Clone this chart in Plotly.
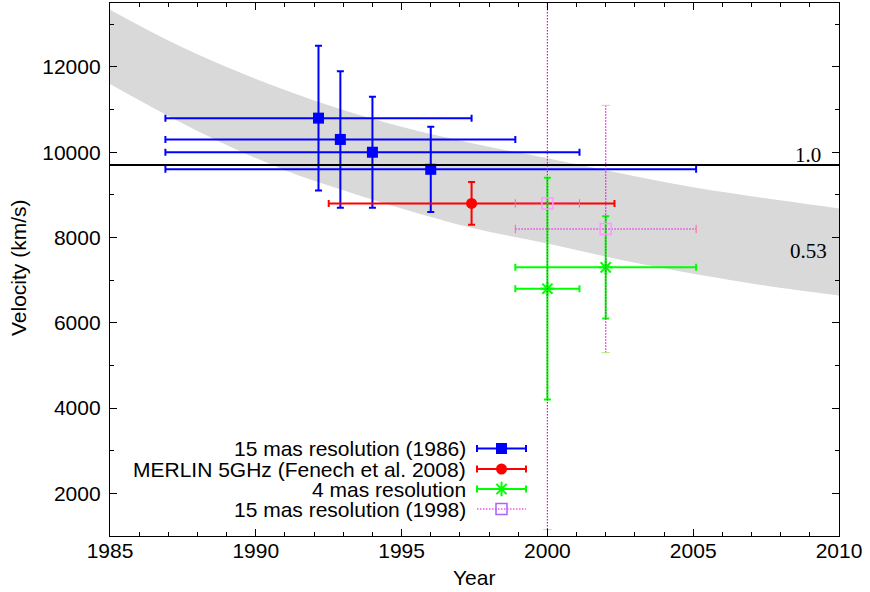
import plotly.graph_objects as go

# ---------------- data ----------------
band_year = [1985, 1987, 1989, 1991, 1993, 1995, 1997.5, 2000, 2002.5, 2005, 2007.5, 2010]
band_upper = [13340, 12620, 12000, 11460, 10990, 10600, 10200, 9860, 9510, 9180, 8920, 8680]
band_lower = [11600, 10850, 10170, 9580, 9110, 8680, 8210, 7860, 7480, 7150, 6870, 6640]

v_ref = 9700          # horizontal reference line labelled "1.0"
label_ref = "1.0"
label_band = "0.53"

series_names = [
    "15 mas resolution (1986)",
    "MERLIN 5GHz (Fenech et al. 2008)",
    "4 mas resolution",
    "15 mas resolution (1998)",
]

# 15 mas resolution (1986)
s1_year = [1992.15, 1992.9, 1994.0, 1996.0]
s1_year_lo = [1986.9, 1986.9, 1986.9, 1986.9]
s1_year_hi = [1997.4, 1998.9, 2001.1, 2005.1]
s1_v = [10800, 10300, 10000, 9600]
s1_v_lo = [9100, 8700, 8700, 8600]
s1_v_hi = [12500, 11900, 11300, 10600]

# MERLIN 5GHz (Fenech et al. 2008)
s2_year = [1997.4]
s2_year_lo = [1992.5]
s2_year_hi = [2002.3]
s2_v = [8800]
s2_v_lo = [8300]
s2_v_hi = [9300]

# 4 mas resolution
s3_year = [2000.0, 2002.0]
s3_year_lo = [1998.9, 1998.9]
s3_year_hi = [2001.1, 2005.1]
s3_v = [6800, 7300]
s3_v_lo = [4200, 6100]
s3_v_hi = [9400, 8500]

# 15 mas resolution (1998)
s4_year = [2000.0, 2002.0]
s4_year_lo = [1998.9, 1998.9]
s4_year_hi = [2001.1, 2005.1]
s4_v = [8800, 8200]
s4_v_lo = [1150, 5300]
s4_v_hi = [16450, 11100]

# ---------------- styling ----------------
BLUE = "rgb(0,0,255)"
RED = "rgb(255,0,0)"
GREEN = "rgb(0,255,0)"
MAGENTA = "rgb(240,0,240)"
GRAY = "rgb(217,217,217)"
SANS = "Liberation Sans, Arial, Helvetica, sans-serif"
SERIF = "Liberation Serif, Times New Roman, serif"
FS = 21
DOT = "1.5px,1.5px"

W, H = 870, 592
ML, MR, MT, MB = 110, 31, 3, 56
PW, PH = W - ML - MR, H - MT - MB

fig = go.Figure()

# shaded band
fig.add_trace(go.Scatter(x=band_year, y=band_lower, mode="lines",
                         line=dict(width=0, color=GRAY, shape="spline"),
                         showlegend=False, hoverinfo="skip"))
fig.add_trace(go.Scatter(x=band_year, y=band_upper, mode="lines", fill="tonexty",
                         fillcolor=GRAY, line=dict(width=0, color=GRAY, shape="spline"),
                         showlegend=False, hoverinfo="skip"))

# reference line
fig.add_shape(type="line", xref="paper", x0=0, x1=1, yref="y", y0=v_ref, y1=v_ref,
              line=dict(color="black", width=2))


def err(x, lo, hi):
    return dict(plus=[h - v for v, h in zip(x, hi)], minus=[v - l for v, l in zip(x, lo)])


def errbar_trace(x, xlo, xhi, y, ylo, yhi, color, symbol, size, mline, name):
    ex = err(x, xlo, xhi)
    ey = err(y, ylo, yhi)
    return go.Scatter(
        x=x, y=y, mode="markers", name=name, showlegend=False,
        marker=dict(symbol=symbol, size=size, color=color,
                    line=dict(color=color, width=mline)),
        error_x=dict(type="data", symmetric=False, array=ex["plus"], arrayminus=ex["minus"],
                     color=color, thickness=2, width=3.5),
        error_y=dict(type="data", symmetric=False, array=ey["plus"], arrayminus=ey["minus"],
                     color=color, thickness=2, width=3.5),
    )


fig.add_trace(errbar_trace(s1_year, s1_year_lo, s1_year_hi, s1_v, s1_v_lo, s1_v_hi,
                           BLUE, "square", 11, 0, series_names[0]))
fig.add_trace(errbar_trace(s2_year, s2_year_lo, s2_year_hi, s2_v, s2_v_lo, s2_v_hi,
                           RED, "circle", 11, 0, series_names[1]))
fig.add_trace(errbar_trace(s3_year, s3_year_lo, s3_year_hi, s3_v, s3_v_lo, s3_v_hi,
                           GREEN, "asterisk-open", 12, 2, series_names[2]))

# dotted magenta error bars built from the data
seg_x, seg_y = [], []
for x, xl, xh, y, yl, yh in zip(s4_year, s4_year_lo, s4_year_hi, s4_v, s4_v_lo, s4_v_hi):
    seg_x += [xl, xh, None, x, x, None]
    seg_y += [y, y, None, yl, yh, None]
fig.add_trace(go.Scatter(x=seg_x, y=seg_y, mode="lines",
                         line=dict(color=MAGENTA, width=1.2, dash=DOT),
                         showlegend=False, hoverinfo="skip", connectgaps=False))
fig.add_trace(go.Scatter(x=s4_year_lo + s4_year_hi, y=s4_v + s4_v, mode="markers",
                         marker=dict(symbol="line-ns-open", size=6,
                                     line=dict(color=MAGENTA, width=1)),
                         showlegend=False, hoverinfo="skip"))
fig.add_trace(go.Scatter(x=s4_year + s4_year, y=s4_v_lo + s4_v_hi, mode="markers",
                         marker=dict(symbol="line-ew-open", size=6,
                                     line=dict(color=MAGENTA, width=1)),
                         showlegend=False, hoverinfo="skip"))
fig.add_trace(go.Scatter(x=s4_year, y=s4_v, mode="markers", name=series_names[3],
                         marker=dict(symbol="square-open", size=11,
                                     line=dict(color=MAGENTA, width=1.5)),
                         showlegend=False))

# ---------------- manual legend (gnuplot style: text then sample) ----------------
leg_rows = [445.5, 466, 486, 506]      # pixel rows inside plot area (from top)
leg_text_right = 357
leg_sample_c = 391.5
leg_half = 24.5
leg_styles = [(BLUE, "square", 11, 0), (RED, "circle", 11, 0), (GREEN, "asterisk-open", 12, 2)]
for i, (col, sym, sz, lw) in enumerate(leg_styles):
    fig.add_trace(go.Scatter(
        x=[leg_sample_c], y=[leg_rows[i]], xaxis="x2", yaxis="y2", mode="markers",
        showlegend=False, hoverinfo="skip",
        marker=dict(symbol=sym, size=sz, color=col, line=dict(color=col, width=lw)),
        error_x=dict(type="constant", value=leg_half, color=col, thickness=2, width=3.5)))
fig.add_trace(go.Scatter(
    x=[leg_sample_c - leg_half, leg_sample_c + leg_half], y=[leg_rows[3], leg_rows[3]],
    xaxis="x2", yaxis="y2", mode="lines", showlegend=False, hoverinfo="skip",
    line=dict(color=MAGENTA, width=1.2, dash=DOT)))
fig.add_trace(go.Scatter(
    x=[leg_sample_c], y=[leg_rows[3]], xaxis="x2", yaxis="y2", mode="markers",
    showlegend=False, hoverinfo="skip",
    marker=dict(symbol="square-open", size=11, line=dict(color=MAGENTA, width=1.5))))

annotations = []
for i, name in enumerate(series_names):
    annotations.append(dict(x=leg_text_right, y=leg_rows[i], xref="x2", yref="y2",
                            text=name, showarrow=False, xanchor="right", yanchor="middle",
                            borderpad=0,
                            font=dict(family=SANS, size=FS, color="black")))

annotations.append(dict(x=2009.45, y=9935, xref="x", yref="y", text=label_ref, showarrow=False,
                        xanchor="right", yanchor="middle",
                        font=dict(family=SERIF, size=FS, color="black")))
annotations.append(dict(x=2009.65, y=7690, xref="x", yref="y", text=label_band, showarrow=False,
                        xanchor="right", yanchor="middle",
                        font=dict(family=SERIF, size=FS, color="black")))
annotations.append(dict(x=(474 - ML) / PW, y=-(577 - (MT + PH)) / PH, xref="paper", yref="paper",
                        text="Year", showarrow=False, xanchor="center", yanchor="middle",
                        font=dict(family=SANS, size=FS, color="black")))
annotations.append(dict(x=(18 - ML) / PW, y=((MT + PH) - 268) / PH, xref="paper", yref="paper",
                        text="Velocity (km/s)", showarrow=False, textangle=-90,
                        xanchor="center", yanchor="middle",
                        font=dict(family=SANS, size=FS, color="black")))

axis_common = dict(showline=True, linecolor="black", linewidth=1.3, mirror="allticks",
                   ticks="inside", ticklen=7, tickwidth=1.3, tickcolor="black",
                   showgrid=False, zeroline=False,
                   tickfont=dict(family=SANS, size=FS, color="black"))

fig.update_layout(
    width=W, height=H,
    margin=dict(l=ML, r=MR, t=MT, b=MB, pad=0),
    paper_bgcolor="white", plot_bgcolor="white",
    showlegend=False,
    xaxis=dict(range=[1985, 2010], tick0=1985, dtick=5, ticklabelstandoff=-4,
               minor=dict(dtick=1, ticks="inside", ticklen=4, tickwidth=1.3, tickcolor="black"),
               **axis_common),
    yaxis=dict(range=[1000, 13500], tick0=0, dtick=2000, tickformat="d", ticklabelstandoff=4,
               minor=dict(dtick=1000, ticks="inside", ticklen=4, tickwidth=1.3, tickcolor="black"),
               **axis_common),
    xaxis2=dict(range=[0, PW], overlaying="x", anchor="y2", visible=False),
    yaxis2=dict(range=[PH, 0], overlaying="y", anchor="x2", visible=False),
    annotations=annotations,
)

fig.write_html("out.html")
